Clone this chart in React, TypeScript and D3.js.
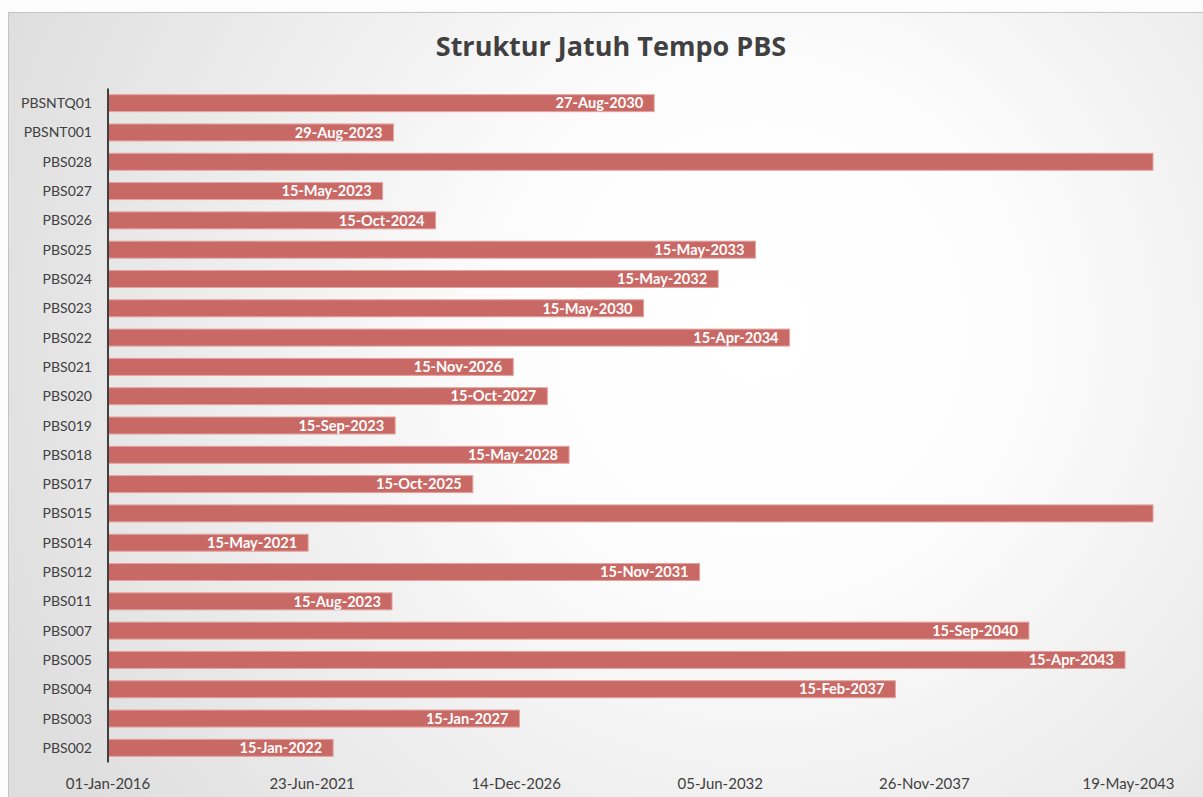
import React from 'react';
import * as d3 from 'd3';

const width = 1203;
const height = 797;
const margin = { top: 88.5, right: 50, bottom: 34.5, left: 108 };

// categories top to bottom, as they appear in the chart
const series = [
  'PBSNTQ01', 'PBSNT001', 'PBS028', 'PBS027', 'PBS026', 'PBS025', 'PBS024', 'PBS023',
  'PBS022', 'PBS021', 'PBS020', 'PBS019', 'PBS018', 'PBS017', 'PBS015', 'PBS014',
  'PBS012', 'PBS011', 'PBS007', 'PBS005', 'PBS004', 'PBS003', 'PBS002',
];

// maturity dates (PBS028 / PBS015 run past the axis end and carry no label)
const maturity = [
  '2030-08-27', '2023-08-29', '2046-10-15', '2023-05-15', '2024-10-15', '2033-05-15', '2032-05-15', '2030-05-15',
  '2034-04-15', '2026-11-15', '2027-10-15', '2023-09-15', '2028-05-15', '2025-10-15', '2047-07-15', '2021-05-15',
  '2031-11-15', '2023-08-15', '2040-09-15', '2043-04-15', '2037-02-15', '2027-01-15', '2022-01-15',
];

const tickLabels = ['01-Jan-2016', '23-Jun-2021', '14-Dec-2026', '05-Jun-2032', '26-Nov-2037', '19-May-2043'];

const axisStart = '2016-01-01';
const axisEnd = '2044-01-14';

const parse = d3.utcParse('%Y-%m-%d');
const parseTick = d3.utcParse('%d-%b-%Y');
const fmt = d3.utcFormat('%d-%b-%Y');

const font = 'Lato, "Open Sans", sans-serif';

function App() {
  const x = d3.scaleUtc()
    .domain([parse(axisStart)!, parse(axisEnd)!])
    .range([margin.left, width - margin.right])
    .clamp(true);

  const y = d3.scaleBand<string>()
    .domain(series)
    .range([margin.top, height - margin.bottom])
    .paddingInner(0.42)
    .paddingOuter(0.21);

  const rows = series.map((name, i) => ({ name, date: parse(maturity[i])! }));
  const maxDate = x.domain()[1];
  const x0 = x(parse(axisStart)!);

  return (
    <svg width={width} height={height} style={{ position: 'fixed', left: 0, top: 0 }}>
      <defs>
        <radialGradient id="bg" gradientUnits="userSpaceOnUse" cx={760} cy={330} r={820}>
          <stop offset="0" stopColor="#ffffff" />
          <stop offset="0.3" stopColor="#fdfdfd" />
          <stop offset="1" stopColor="#dedede" />
        </radialGradient>
      </defs>
      <rect x={0} y={0} width={width} height={height} fill="#fcfcfc" />
      <rect x={8.5} y={12.5} width={width + 20} height={height + 20} fill="url(#bg)" stroke="#c4c4c4" />

      <text x={611} y={56} textAnchor="middle" fontFamily='"Open Sans", sans-serif' fontWeight="bold" fontSize={27} fill="#404040">
        Struktur Jatuh Tempo PBS
      </text>

      {rows.map((d) => (
        <g key={d.name}>
          <rect
            x={x0}
            y={y(d.name)!}
            width={x(d.date) - x0}
            height={y.bandwidth()}
            fill="#c96965"
            stroke="#e3a3a0"
            strokeWidth={1}
          />
          {d.date <= maxDate && (
            <text
              x={x(d.date) - 11}
              y={y(d.name)! + y.bandwidth() / 2}
              dy="0.36em"
              textAnchor="end"
              fontFamily={font}
              fontWeight="bold"
              fontSize={14.6}
              fill="#ffffff"
            >
              {fmt(d.date)}
            </text>
          )}
          <text
            x={92}
            y={y(d.name)! + y.bandwidth() / 2}
            dy="0.36em"
            textAnchor="end"
            fontFamily={font}
            fontSize={14}
            fill="#404040"
          >
            {d.name}
          </text>
        </g>
      ))}

      <line x1={margin.left} x2={margin.left} y1={margin.top} y2={height - margin.bottom} stroke="#404040" strokeWidth={2} />

      {tickLabels.map((t) => (
        <text key={t} x={x(parseTick(t)!)} y={784} dy="0.36em" textAnchor="middle" fontFamily={font} fontSize={15} fill="#404040">
          {t}
        </text>
      ))}
    </svg>
  );
}

export default App;
